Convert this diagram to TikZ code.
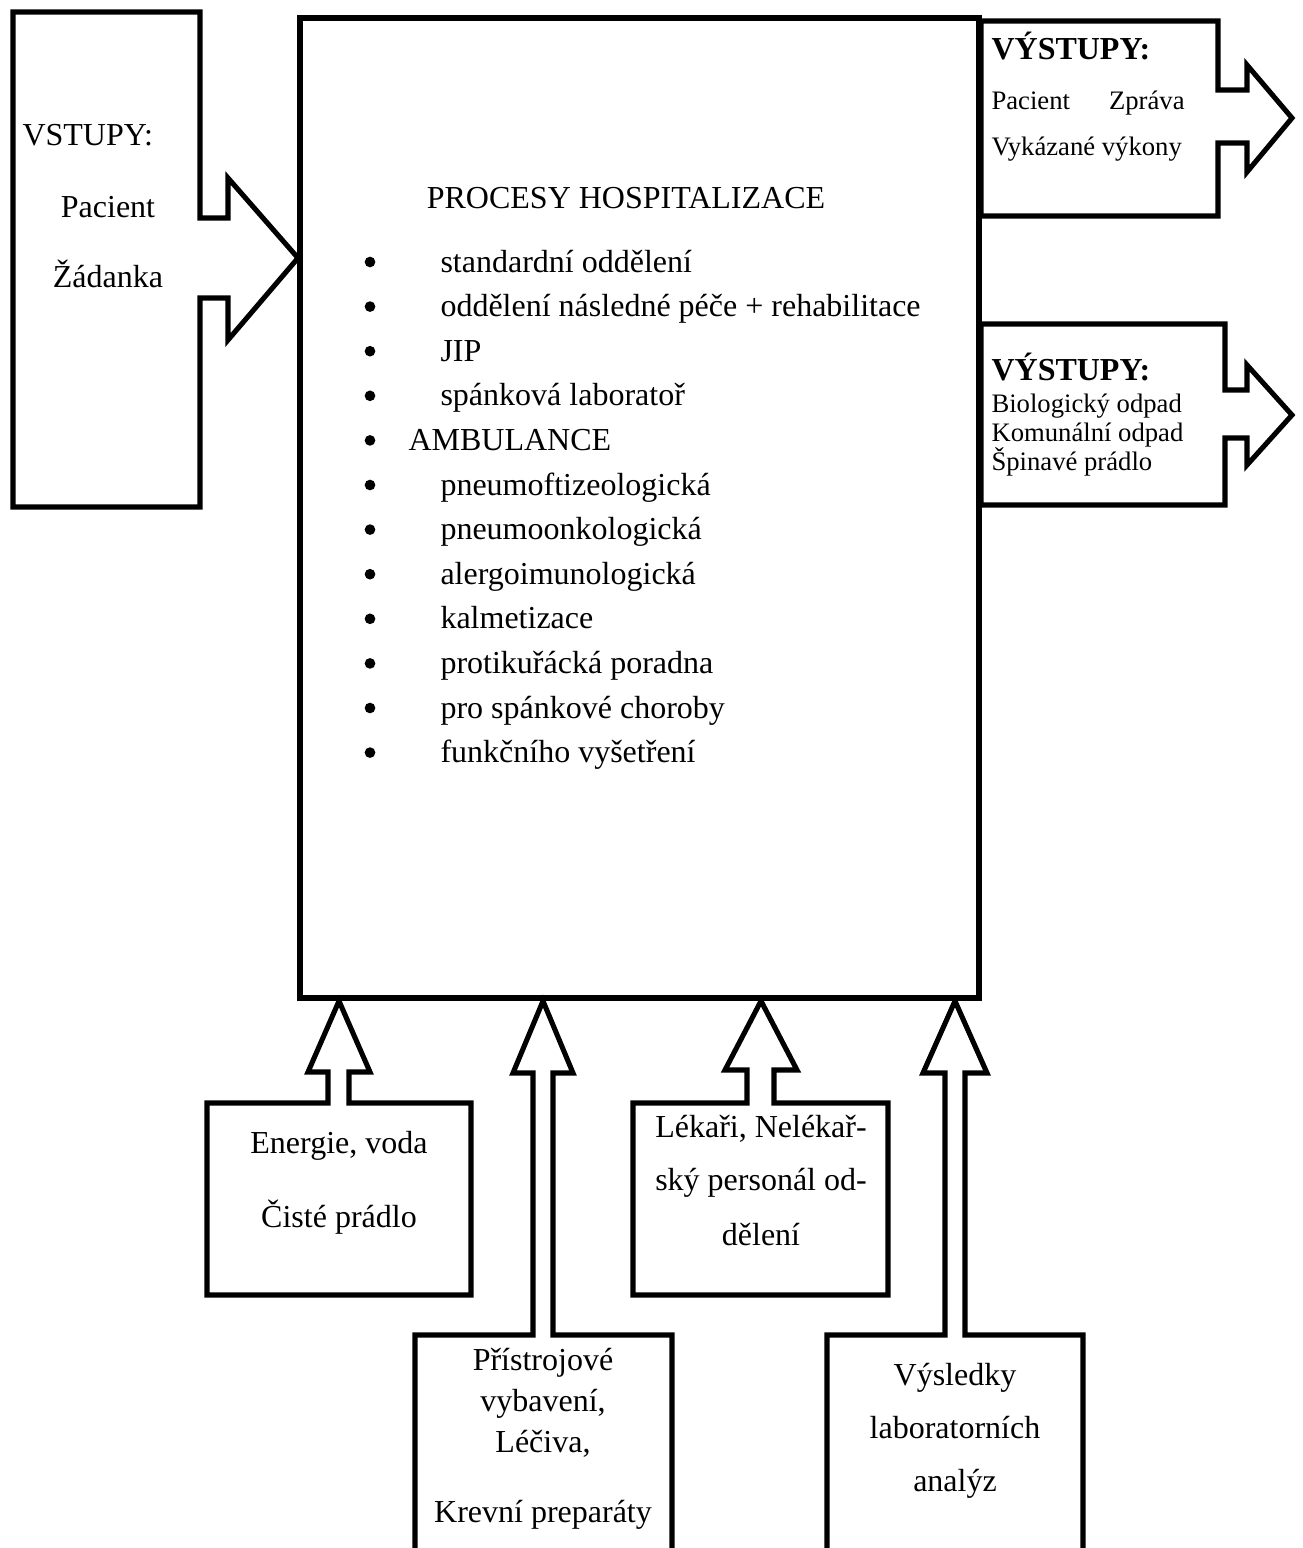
\documentclass[tikz,border=0pt]{standalone}
\usepackage{fontspec}
\setmainfont{Liberation Serif}
\begin{document}
\begin{tikzpicture}[x=0.375pt,y=-0.375pt,
  blockshape/.style={draw, line width=1.9pt, line join=miter, fill=white},
  txt/.style={inner sep=0pt, font=\fontsize{12}{14}\selectfont},
  smalltxt/.style={inner sep=0pt, font=\fontsize{10}{12}\selectfont},
  bulletdot/.style={circle, fill=black, inner sep=0pt, minimum size=4pt}]
\useasboundingbox (0,0) rectangle (1302,1548);
\clip (0,0) rectangle (1302,1548);

% main process box
\draw[blockshape] (300,18) rectangle (979,998);

% inputs (left)
\draw[blockshape] (13,12) -- (200,12) -- (200,218) -- (228,218) -- (228,178) -- (298,258)
  -- (228,340) -- (228,298) -- (200,298) -- (200,507) -- (13,507) -- cycle;

% outputs 1
\draw[blockshape] (981,21) -- (1218,21) -- (1218,90) -- (1247,90) -- (1247,65) -- (1292,118)
  -- (1247,172) -- (1247,143) -- (1218,143) -- (1218,216) -- (981,216) -- cycle;

% outputs 2
\draw[blockshape] (981,324) -- (1225,324) -- (1225,390) -- (1247,390) -- (1247,365) -- (1292,415)
  -- (1247,465) -- (1247,438) -- (1225,438) -- (1225,505) -- (981,505) -- cycle;

% bottom A
\draw[blockshape] (207,1103) -- (328,1103) -- (328,1072) -- (308,1072) -- (339,1001) -- (370,1072)
  -- (349,1072) -- (349,1103) -- (471,1103) -- (471,1295) -- (207,1295) -- cycle;

% bottom B
\draw[blockshape] (415,1570) -- (415,1335) -- (533,1335) -- (533,1073) -- (513,1073) -- (543,1001)
  -- (573,1073) -- (553,1073) -- (553,1335) -- (672,1335) -- (672,1570);

% bottom C
\draw[blockshape] (633,1103) -- (747,1103) -- (747,1070) -- (725,1070) -- (761,1001) -- (797,1070)
  -- (774,1070) -- (774,1103) -- (888,1103) -- (888,1295) -- (633,1295) -- cycle;

% bottom D
\draw[blockshape] (827,1570) -- (827,1335) -- (945,1335) -- (945,1073) -- (923,1073) -- (955,1001)
  -- (987,1073) -- (965,1073) -- (965,1335) -- (1083,1335) -- (1083,1570);

% left texts
\node[txt, anchor=base west] (vstupy) at (22,146) {VSTUPY:};
\node[txt, anchor=base] (inpac) at (108,217) {Pacient};
\node[txt, anchor=base] (inzad) at (108,287) {Žádanka};

% main texts
\node[txt, anchor=base] (title) at (626,208) {PROCESY HOSPITALIZACE};
\foreach \k/\t in {0/standardní oddělení, 1/oddělení následné péče + rehabilitace, 2/JIP,
  3/spánková laboratoř, 5/pneumoftizeologická, 6/pneumoonkologická, 7/alergoimunologická,
  8/kalmetizace, 9/protikuřácká poradna, 10/pro spánkové choroby, 11/funkčního vyšetření}{
  \node[txt, anchor=base west] (item\k) at (440,272+44.6*\k) {\t};
}
\node[txt, anchor=base west] (item4) at (408,272+44.6*4) {AMBULANCE};
\foreach \k in {0,...,11}{
  \node[bulletdot] (bul\k) at (370,262+44.6*\k) {};
}

% output 1 texts
\node[txt, anchor=base west, font=\fontsize{12}{14}\selectfont\bfseries] (out1h) at (991,60) {VÝSTUPY:};
\node[smalltxt, anchor=base west] (out1a) at (991,110) {\makebox[72.4pt][s]{Pacient Zpráva}};
\node[smalltxt, anchor=base west] (out1b) at (991,156) {Vykázané výkony};

% output 2 texts
\node[txt, anchor=base west, font=\fontsize{12}{14}\selectfont\bfseries] (out2h) at (991,380) {VÝSTUPY:};
\node[smalltxt, anchor=base west] (out2a) at (991,412) {Biologický odpad};
\node[smalltxt, anchor=base west] (out2b) at (991,441) {Komunální odpad};
\node[smalltxt, anchor=base west] (out2c) at (991,470) {Špinavé prádlo};

% bottom texts
\node[txt, anchor=base] (a1) at (339,1153) {Energie, voda};
\node[txt, anchor=base] (a2) at (339,1227) {Čisté prádlo};

\node[txt, anchor=base] (b1) at (543,1370) {Přístrojové};
\node[txt, anchor=base] (b2) at (543,1411) {vybavení,};
\node[txt, anchor=base] (b3) at (543,1452) {Léčiva,};
\node[txt, anchor=base] (b4) at (543,1522) {Krevní preparáty};

\node[txt, anchor=base] (c1) at (761,1137) {Lékaři, Nelékař-};
\node[txt, anchor=base] (c2) at (761,1190) {ský personál od-};
\node[txt, anchor=base] (c3) at (761,1245) {dělení};

\node[txt, anchor=base] (d1) at (955,1385) {Výsledky};
\node[txt, anchor=base] (d2) at (955,1438) {laboratorních};
\node[txt, anchor=base] (d3) at (955,1491) {analýz};
\end{tikzpicture}
\end{document}
